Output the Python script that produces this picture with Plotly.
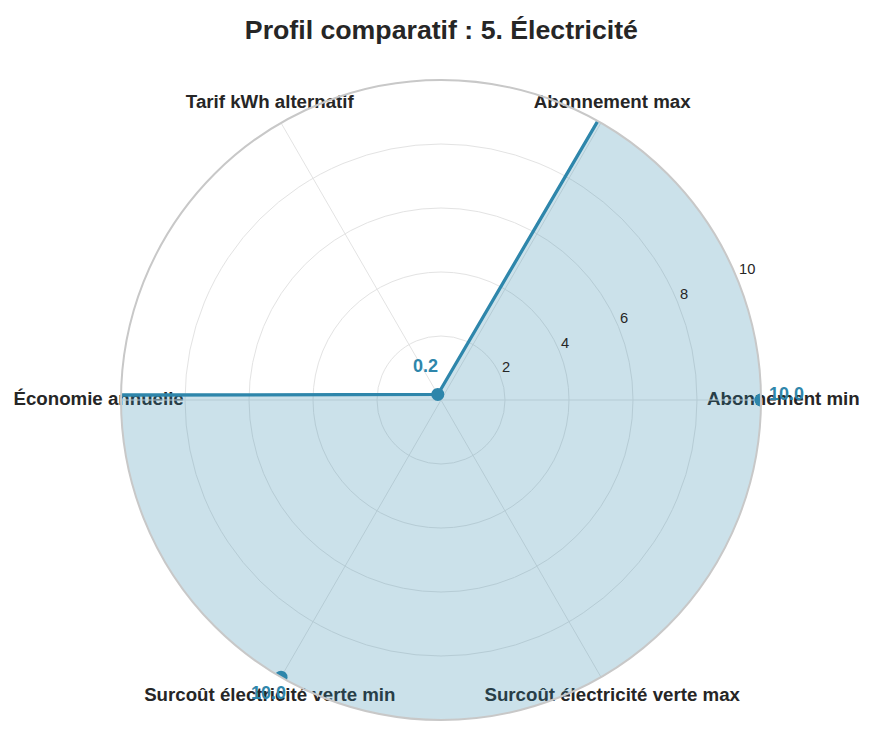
import math
import plotly.graph_objects as go

# ---- data -------------------------------------------------------------
categories = [
    "Abonnement min",
    "Abonnement max",
    "Tarif kWh alternatif",
    "Économie annuelle",
    "Surcoût électricité verte min",
    "Surcoût électricité verte max",
]
# values beyond the radial limit (10) run off the chart and are clipped
values = [10.0, 30.0, 0.2, 100.0, 10.0, 30.0]
radial_ticks = [2, 4, 6, 8, 10]
title_text = "Profil comparatif : 5. Électricité"

# ---- styles -----------------------------------------------------------
BLUE = "#2E86AB"
FILL = "rgba(46,134,171,0.25)"
TEXT = "#262626"
GRID = "#e3e3e3"
SPINE = "#c8c8c8"
FONT = "Liberation Sans"
R_MAX = 10
LABEL_R = 10.7
VALUE_OFFSET = 0.8
RLABEL_ANGLE = 22.5

W, H = 874, 735
cx, cy, rad = 441, 400, 320          # polar centre / radius in pixels
unit = rad / R_MAX                   # pixels per radial unit

n = len(categories)
angles = [i * 360.0 / n for i in range(n)]


def to_xy(r, theta_deg):
    t = math.radians(theta_deg)
    return r * math.cos(t), r * math.sin(t)


fig = go.Figure()

# category labels on an overlay cartesian frame sharing the polar scale
lab_xy = [to_xy(LABEL_R, a) for a in angles]
fig.add_trace(go.Scatter(
    x=[p[0] for p in lab_xy], y=[p[1] for p in lab_xy], mode="text",
    text=categories, textposition="middle center", cliponaxis=False,
    textfont=dict(family=FONT, size=18.7, color=TEXT, weight="bold"),
    hoverinfo="skip", showlegend=False,
))

# filled profile (closed)
fig.add_trace(go.Scatterpolar(
    r=values + values[:1], theta=angles + angles[:1],
    mode="lines+markers", fill="toself", cliponaxis=True,
    fillcolor=FILL, line=dict(color=BLUE, width=3.3),
    marker=dict(color=BLUE, size=13),
    showlegend=False,
))

annotations = []
# radial tick labels, placed along the label angle
for t in radial_ticks:
    x, y = to_xy(t, RLABEL_ANGLE)
    annotations.append(dict(
        x=x, y=y, xref="x", yref="y", text=str(t), showarrow=False,
        xanchor="left", yanchor="middle", xshift=0, yshift=8.5,
        font=dict(family=FONT, size=14.7, color=TEXT),
    ))

# value labels for points that stay inside the radial limit
for v, a in zip(values, angles):
    if v > R_MAX:
        continue
    x, y = to_xy(v + VALUE_OFFSET, a)
    annotations.append(dict(
        x=x, y=y, xref="x", yref="y", text=f"<b>{v:.1f}</b>",
        showarrow=False, xanchor="center", yanchor="middle", yshift=6,
        font=dict(family=FONT, size=18, color=BLUE),
    ))

fig.update_layout(
    width=W, height=H,
    margin=dict(l=0, r=0, t=0, b=0),
    paper_bgcolor="white",
    plot_bgcolor="rgba(0,0,0,0)",
    font=dict(family=FONT, color=TEXT),
    title=dict(text=f"<b>{title_text}</b>", x=0.505, xanchor="center",
               y=1 - 30 / H, yanchor="middle",
               font=dict(family=FONT, size=26.7, color=TEXT)),
    xaxis=dict(domain=[0, 1], range=[-cx / unit, (W - cx) / unit],
               visible=False, fixedrange=True),
    yaxis=dict(domain=[0, 1], range=[-(H - cy) / unit, cy / unit],
               visible=False, fixedrange=True),
    annotations=annotations,
    polar=dict(
        domain=dict(x=[(cx - rad) / W, (cx + rad) / W],
                    y=[(H - cy - rad) / H, (H - cy + rad) / H]),
        bgcolor="rgba(0,0,0,0)",
        radialaxis=dict(
            range=[0, R_MAX], tickvals=radial_ticks,
            showticklabels=False, angle=RLABEL_ANGLE,
            showline=False, ticks="",
            gridcolor=GRID, gridwidth=1,
        ),
        angularaxis=dict(
            tickmode="array", tickvals=angles, showticklabels=False,
            ticks="", rotation=0, direction="counterclockwise",
            gridcolor=GRID, gridwidth=1,
            showline=True, linecolor=SPINE, linewidth=2,
        ),
    ),
)

fig.write_html("out.html")
